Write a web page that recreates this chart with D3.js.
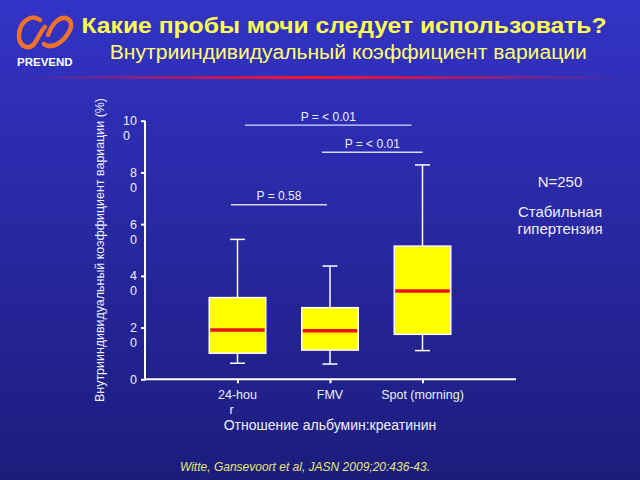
<!DOCTYPE html>
<html><head><meta charset="utf-8">
<script src="https://cdn.jsdelivr.net/npm/d3@7"></script>
<style>html,body{margin:0;padding:0;background:#22228f;}svg{display:block;}</style>
</head><body>
<script>
// ---- data ----
const categories = ["24-hour", "FMV", "Spot (morning)"];
const categoryLabelLines = [["24-hou", "r"], ["FMV"], ["Spot (morning)"]];
const whiskerLow  = [6.2, 5.9, 11.1];
const q1          = [10.1, 11.3, 17.4];
const median      = [19.1, 18.8, 34.1];
const q3          = [31.6, 27.7, 51.5];
const whiskerHigh = [54.1, 43.8, 82.9];
const yTicks = [0, 20, 40, 60, 80, 100];
const bracketFrom   = ["24-hour", "FMV", "24-hour"];
const bracketTo     = ["Spot (morning)", "Spot (morning)", "FMV"];
const bracketLevel  = [98.3, 87.8, 67.5];
const bracketLabels = ["P = < 0.01", "P = < 0.01", "P = 0.58"];
const titleText = "Какие пробы мочи следует использовать?";
const subtitleText = "Внутрииндивидуальный коэффициент вариации";
const yTitle = "Внутрииндивидуальный коэффициент вариации (%)";
const xTitle = "Отношение альбумин:креатинин";
const noteLines = ["N=250", "Стабильная", "гипертензия"];
const citation = "Witte, Gansevoort et al, JASN 2009;20:436-43.";

const W = 640, H = 480;
const font = "'Liberation Sans', Arial, sans-serif";
const svg = d3.select("body").append("svg").attr("width", W).attr("height", H);
const defs = svg.append("defs");
const bg = defs.append("linearGradient").attr("id", "bg").attr("x1", 0).attr("y1", 0).attr("x2", 0).attr("y2", 1);
bg.append("stop").attr("offset", "0%").attr("stop-color", "#3333c6");
bg.append("stop").attr("offset", "100%").attr("stop-color", "#1c1c7c");
const rl = defs.append("linearGradient").attr("id", "redline").attr("x1", 0).attr("y1", 0).attr("x2", 1).attr("y2", 0);
rl.append("stop").attr("offset", "0%").attr("stop-color", "#ff1030").attr("stop-opacity", 0);
rl.append("stop").attr("offset", "48%").attr("stop-color", "#ff1030").attr("stop-opacity", 1);
rl.append("stop").attr("offset", "100%").attr("stop-color", "#ff1030").attr("stop-opacity", 0);

svg.append("rect").attr("width", W).attr("height", H).attr("fill", "url(#bg)");
svg.append("rect").attr("x", 20).attr("y", 76).attr("width", 610).attr("height", 3).attr("fill", "url(#redline)");

// logo
const logo = svg.append("g").attr("fill", "none").attr("stroke", "#f07228").attr("stroke-width", 4.5).attr("stroke-linecap", "round");
logo.append("path").attr("d", "M40,20 C30,13 19,23 19,36 C19,47 29,50 34,44 C38,39 40,32 45,27");
logo.append("path").attr("d", "M44,44 C52,50 64,42 70,30 C74,20 66,15 58,20 C52,24 50,30 48,35");
svg.append("text").attr("x", 17).attr("y", 65.5).attr("font-family", font).attr("font-weight", "bold")
  .attr("font-size", 11.5).attr("fill", "#ffffff").text("PREVEND");

// titles
svg.append("text").attr("x", 344).attr("y", 33).attr("text-anchor", "middle").attr("font-family", font)
  .attr("font-weight", "bold").attr("font-size", 22).attr("fill", "#ffff50")
  .attr("textLength", 525).attr("lengthAdjust", "spacingAndGlyphs").text(titleText);
svg.append("text").attr("x", 348.3).attr("y", 58.5).attr("text-anchor", "middle").attr("font-family", font)
  .attr("font-size", 19.5).attr("fill", "#ffff70")
  .attr("textLength", 477).attr("lengthAdjust", "spacingAndGlyphs").text(subtitleText);

// scales
const y = d3.scaleLinear().domain([0, 100]).range([379.3, 120.7]);
const x = d3.scalePoint().domain(categories).range([145, 515]).padding(1);
const white = "#ffffff";
const txt = "#eeeeff";

// axes
const yAxis = svg.append("g").attr("transform", "translate(145,0)")
  .call(d3.axisLeft(y).tickValues(yTicks).tickSize(4).tickFormat(""));
yAxis.select(".domain").remove();
yAxis.selectAll(".tick line").attr("stroke", white).attr("stroke-width", 2);
svg.append("line").attr("x1", 145).attr("x2", 145).attr("y1", y(100)).attr("y2", y(0) + 1)
  .attr("stroke", white).attr("stroke-width", 2);

const xAxis = svg.append("g").attr("transform", `translate(0,${y(0)})`)
  .call(d3.axisBottom(x).tickSize(4).tickFormat(""));
xAxis.select(".domain").remove();
xAxis.selectAll(".tick line").attr("stroke", white).attr("stroke-width", 2);
svg.append("line").attr("x1", 144).attr("x2", 516).attr("y1", y(0)).attr("y2", y(0))
  .attr("stroke", white).attr("stroke-width", 2);

// y tick labels (wrapped as in reference)
yTicks.forEach(v => {
  const s = String(v);
  const t = svg.append("text").attr("font-family", font).attr("font-size", 12.5).attr("fill", txt);
  if (s.length === 1) {
    t.attr("x", 137).attr("y", y(v) + 4.5).attr("text-anchor", "end").text(s);
  } else {
    const first = s.slice(0, -1), second = s.slice(-1);
    const t1 = t.append("tspan").attr("x", 137).attr("y", y(v) + 4.5).attr("text-anchor", "end").text(first);
    const w = t1.node().getComputedTextLength();
    t.append("tspan").attr("x", 137 - w).attr("y", y(v) + 19.5).attr("text-anchor", "start").text(second);
  }
});

// x tick labels
categories.forEach((c, i) => {
  const lines = categoryLabelLines[i];
  lines.forEach((ln, j) => {
    const t = svg.append("text").attr("font-family", font).attr("font-size", 12.5).attr("fill", txt);
    if (j === 0) t.attr("x", x(c)).attr("y", 399).attr("text-anchor", "middle").text(ln);
    else t.attr("x", x(c) - 8).attr("y", 413.5).attr("text-anchor", "start").text(ln);
  });
});

// axis titles
svg.append("text").attr("transform", "translate(104,250) rotate(-90)").attr("text-anchor", "middle")
  .attr("font-family", font).attr("font-size", 12).attr("fill", txt)
  .attr("textLength", 304).attr("lengthAdjust", "spacingAndGlyphs").text(yTitle);
svg.append("text").attr("x", 330).attr("y", 430).attr("text-anchor", "middle")
  .attr("font-family", font).attr("font-size", 14).attr("fill", txt).text(xTitle);

// boxes
const boxW = 56.5, capW = 15;
categories.forEach((c, i) => {
  const cx = x(c);
  const g = svg.append("g");
  g.append("line").attr("x1", cx).attr("x2", cx).attr("y1", y(whiskerHigh[i])).attr("y2", y(q3[i]))
    .attr("stroke", white).attr("stroke-width", 1.5);
  g.append("line").attr("x1", cx).attr("x2", cx).attr("y1", y(q1[i])).attr("y2", y(whiskerLow[i]))
    .attr("stroke", white).attr("stroke-width", 1.5);
  g.append("line").attr("x1", cx - capW / 2).attr("x2", cx + capW / 2).attr("y1", y(whiskerHigh[i])).attr("y2", y(whiskerHigh[i]))
    .attr("stroke", white).attr("stroke-width", 1.5);
  g.append("line").attr("x1", cx - capW / 2).attr("x2", cx + capW / 2).attr("y1", y(whiskerLow[i])).attr("y2", y(whiskerLow[i]))
    .attr("stroke", white).attr("stroke-width", 1.5);
  g.append("rect").attr("x", cx - boxW / 2).attr("y", y(q3[i])).attr("width", boxW).attr("height", y(q1[i]) - y(q3[i]))
    .attr("fill", "#ffff00").attr("stroke", white).attr("stroke-width", 1.5);
  g.append("line").attr("x1", cx - boxW / 2 + 1).attr("x2", cx + boxW / 2 - 1).attr("y1", y(median[i])).attr("y2", y(median[i]))
    .attr("stroke", "#e8141c").attr("stroke-width", 3.5);
});

// significance brackets
const bracketOffsets = [[7.5, -11], [-8, 0], [-6.5, -3]];
bracketLabels.forEach((lab, i) => {
  const x1 = x(bracketFrom[i]) + bracketOffsets[i][0];
  const x2 = x(bracketTo[i]) + bracketOffsets[i][1];
  const yy = y(bracketLevel[i]);
  svg.append("line").attr("x1", x1).attr("x2", x2).attr("y1", yy).attr("y2", yy)
    .attr("stroke", "#d8d8ff").attr("stroke-width", 1.3);
  svg.append("text").attr("x", (x1 + x2) / 2).attr("y", yy - 4.5).attr("text-anchor", "middle")
    .attr("font-family", font).attr("font-size", 12).attr("fill", txt).text(lab);
});

// note
noteLines.forEach((ln, i) => {
  svg.append("text").attr("x", 560).attr("y", [187, 216.5, 234][i]).attr("text-anchor", "middle")
    .attr("font-family", font).attr("font-size", 15).attr("fill", txt).text(ln);
});

// citation
svg.append("text").attr("x", 305).attr("y", 471).attr("text-anchor", "middle")
  .attr("font-family", font).attr("font-style", "italic").attr("font-size", 12).attr("fill", "#e6e67a").text(citation);
</script>
</body></html>
